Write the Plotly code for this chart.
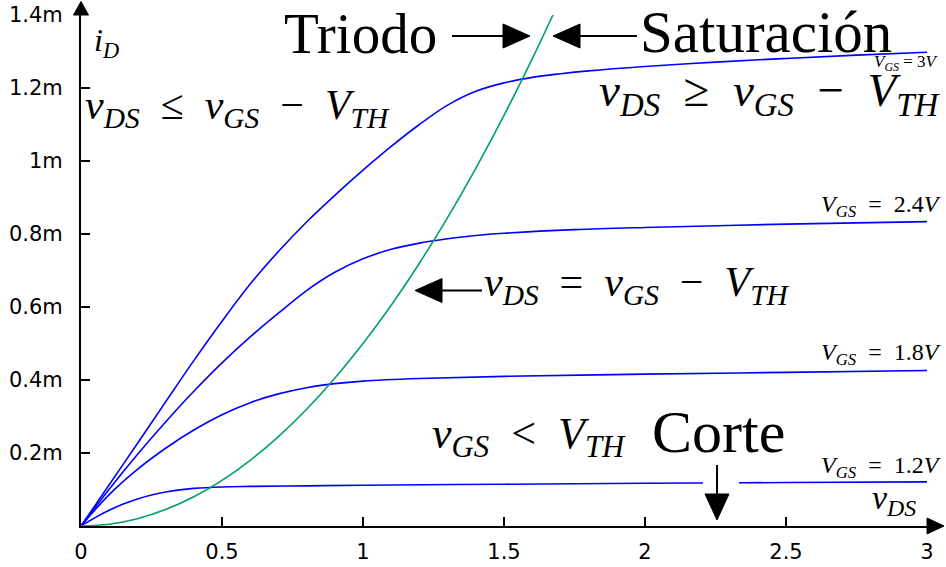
import plotly.graph_objects as go

# ---------------- data ----------------
vds_12 = [0, 0.05, 0.10, 0.15, 0.20, 0.25, 0.30, 0.35, 0.40, 0.50, 0.60, 0.80, 1.00, 1.50, 2.00, 2.50, 3.00]
id_12 = [0, 0.023, 0.043, 0.060, 0.074, 0.085, 0.093, 0.099, 0.103, 0.107, 0.1085, 0.110, 0.1115,
         0.1145, 0.117, 0.119, 0.121]

vds_18 = [0, 0.1, 0.2, 0.3, 0.4, 0.5, 0.6, 0.7, 0.8, 0.9, 1.0, 1.2, 1.5, 2.0, 2.5, 3.0]
id_18 = [0, 0.086, 0.155, 0.213, 0.263, 0.305, 0.338, 0.362, 0.379, 0.390, 0.397, 0.404, 0.410,
         0.416, 0.421, 0.426]

vds_24 = [0, 0.1, 0.2, 0.3, 0.4, 0.5, 0.6, 0.7, 0.8, 0.9, 1.0, 1.1, 1.2, 1.3, 1.4, 1.5, 1.75, 2.0, 2.5, 3.0]
id_24 = [0, 0.101, 0.196, 0.285, 0.369, 0.447, 0.518, 0.583, 0.645, 0.695, 0.732, 0.758, 0.775,
         0.787, 0.796, 0.802, 0.812, 0.818, 0.827, 0.834]

vds_30 = [0, 0.1, 0.2, 0.3, 0.4, 0.5, 0.6, 0.7, 0.8, 0.9, 1.0, 1.1, 1.2, 1.3, 1.4, 1.5, 1.6, 1.7,
          1.8, 2.0, 2.25, 2.5, 2.75, 3.0]
id_30 = [0, 0.113, 0.226, 0.340, 0.453, 0.561, 0.663, 0.752, 0.833, 0.906, 0.975, 1.040, 1.100,
         1.153, 1.191, 1.214, 1.229, 1.239, 1.247, 1.259, 1.271, 1.281, 1.290, 1.298]

vds_edge = [0, 0.1, 0.2, 0.3, 0.4, 0.5, 0.6, 0.7, 0.8, 0.9, 1.0, 1.1, 1.2, 1.3, 1.4, 1.5, 1.6, 1.676]
id_edge = [0, 0.005, 0.020, 0.045, 0.080, 0.125, 0.180, 0.245, 0.320, 0.405, 0.500, 0.605, 0.720,
           0.845, 0.980, 1.125, 1.280, 1.404]

x_ticks = [0, 0.5, 1, 1.5, 2, 2.5, 3]
x_ticktext = ["0", "0.5", "1", "1.5", "2", "2.5", "3"]
y_ticks = [0.2, 0.4, 0.6, 0.8, 1.0, 1.2, 1.4]
y_ticktext = ["0.2m", "0.4m", "0.6m", "0.8m", "1m", "1.2m", "1.4m"]

# ---------------- layout geometry ----------------
W, H = 946, 567
ML, MR, MT, MB = 81, 19, 15, 41
PW, PH = W - ML - MR, H - MT - MB
SX = PW / 3.0      # pixels per volt
SY = PH / 1.4      # pixels per mA


def dx(px):
    return (px - ML) / SX


def dy(py):
    return (H - MB - py) / SY


def paper_x(px):
    return (px - ML) / PW


def paper_y(py):
    return (H - MB - py) / PH


BLUE = "#0000ff"
GREEN = "#009e73"
SERIF = "Liberation Serif"

fig = go.Figure()
for xs, ys in [(vds_12, id_12), (vds_18, id_18), (vds_24, id_24), (vds_30, id_30)]:
    fig.add_trace(go.Scatter(x=xs, y=ys, mode="lines",
                             line=dict(color=BLUE, width=1.6, shape="spline", smoothing=1.0),
                             hoverinfo="skip", showlegend=False))
fig.add_trace(go.Scatter(x=vds_edge, y=id_edge, mode="lines",
                         line=dict(color=GREEN, width=1.6, shape="spline", smoothing=1.0),
                         hoverinfo="skip", showlegend=False))

shapes = []
# white gap in the 1.2V curve behind the "Corte" arrow
shapes.append(dict(type="rect", xref="x", yref="y", layer="above",
                   x0=dx(703), x1=dx(739), y0=dy(491), y1=dy(474),
                   fillcolor="white", line=dict(width=0)))


def h_arrow(tail_px, tip_px, ypx, head=27, half=12):
    d = 1 if tip_px > tail_px else -1
    base = tip_px - d * head
    shapes.append(dict(type="line", xref="x", yref="y", layer="above",
                       x0=dx(tail_px), x1=dx(base), y0=dy(ypx), y1=dy(ypx),
                       line=dict(color="black", width=2)))
    path = "M %f,%f L %f,%f L %f,%f Z" % (dx(tip_px), dy(ypx), dx(base), dy(ypx - half),
                                          dx(base), dy(ypx + half))
    shapes.append(dict(type="path", xref="x", yref="y", layer="above", path=path,
                       fillcolor="black", line=dict(color="black", width=1)))


def v_arrow(xpx, tail_py, tip_py, head=26, half=12):
    base = tip_py - head
    shapes.append(dict(type="line", xref="x", yref="y", layer="above",
                       x0=dx(xpx), x1=dx(xpx), y0=dy(tail_py), y1=dy(base),
                       line=dict(color="black", width=2)))
    path = "M %f,%f L %f,%f L %f,%f Z" % (dx(xpx), dy(tip_py), dx(xpx - half), dy(base),
                                          dx(xpx + half), dy(base))
    shapes.append(dict(type="path", xref="x", yref="y", layer="above", path=path,
                       fillcolor="black", line=dict(color="black", width=1)))


h_arrow(452, 530, 36)
h_arrow(637, 553, 36)
h_arrow(482, 415, 290.5)
v_arrow(717, 465, 520)

# axis arrowheads (paper coordinates so they are not clipped)
shapes.append(dict(type="path", xref="paper", yref="paper", layer="above",
                   path="M %f,1 L 0,%f L %f,1 Z" % (-7.5 / PW, 1 + 13.5 / PH, 7.5 / PW),
                   fillcolor="black", line=dict(color="black", width=1)))
shapes.append(dict(type="path", xref="paper", yref="paper", layer="above",
                   path="M 1,%f L %f,0 L 1,%f Z" % (8 / PH, 1 + 17 / PW, -8 / PH),
                   fillcolor="black", line=dict(color="black", width=1)))

ann = []


def text(s, xpx, ypx, size, anchor="left"):
    ann.append(dict(text=s, x=paper_x(xpx), y=paper_y(ypx), xref="paper", yref="paper",
                    showarrow=False, xanchor=anchor, yanchor="middle",
                    font=dict(family=SERIF, size=size, color="black")))


NB = "\u00a0"


def m(v, sub):
    return "<i>%s</i><sub><i>%s</i></sub>" % (v, sub)


EQ = NB + NB + "=" + NB + NB

text("Triodo", 360, 33, 57, "center")
text("Saturación", 766, 32, 59, "center")
text("Corte", 718, 432, 60, "center")
text(m("v", "DS") + NB + " ≤ " + NB + m("v", "GS") + NB + " − " + NB + m("V", "TH"), 83, 108, 42)
text(m("v", "DS") + NB + " ≥ " + NB + m("v", "GS") + NB + " − " + NB + m("V", "TH"), 597, 93, 47)
text(m("v", "DS") + NB + " = " + NB + m("v", "GS") + NB + " − " + NB + m("V", "TH"), 482, 285, 42)
text(m("v", "GS") + NB + " < " + NB + m("V", "TH"), 430, 436, 44)
text(m("V", "GS") + NB + "=" + NB + "3<i>V</i>", 941, 63, 17, "right")
text(m("V", "GS") + EQ + "2.4<i>V</i>", 943, 206, 24, "right")
text(m("V", "GS") + EQ + "1.8<i>V</i>", 943, 354, 24, "right")
text(m("V", "GS") + EQ + "1.2<i>V</i>", 943, 467, 24, "right")
text(m("i", "D"), 92, 42, 32)
text(m("v", "DS"), 870, 500, 34)

fig.update_layout(
    width=W, height=H,
    margin=dict(l=ML, r=MR, t=MT, b=MB),
    paper_bgcolor="white", plot_bgcolor="white",
    shapes=shapes, annotations=ann, showlegend=False,
)
axis_common = dict(showgrid=False, zeroline=False, showline=True, linecolor="black",
                   linewidth=2, ticks="inside", ticklen=9, tickwidth=1.5, tickcolor="black",
                   tickfont=dict(family="DejaVu Sans", size=21, color="black"),
                   fixedrange=True, automargin=False, ticklabeloverflow="allow")
fig.update_xaxes(range=[0, 3], tickvals=x_ticks, ticktext=x_ticktext,
                 ticklabelstandoff=6, **axis_common)
fig.update_yaxes(range=[0, 1.4], tickvals=y_ticks, ticktext=y_ticktext,
                 ticklabelstandoff=12, **axis_common)

# remove the default 8px page margin so the figure fills the 946x567 window exactly
fig.write_html("out.html", config={"displayModeBar": False},
               post_script="document.body.style.margin='0px';")
